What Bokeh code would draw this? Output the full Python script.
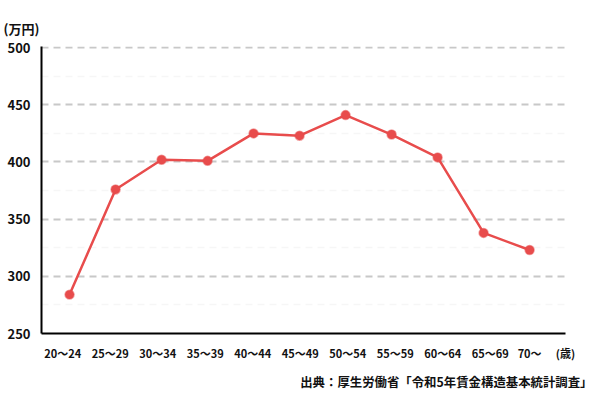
from bokeh.plotting import figure
from bokeh.models import FixedTicker, Title, Range1d, ColumnDataSource
from bokeh.embed import file_html
from bokeh.resources import INLINE

# ---- data ----
age_groups = ["20〜24", "25〜29", "30〜34", "35〜39", "40〜44", "45〜49",
              "50〜54", "55〜59", "60〜64", "65〜69", "70〜"]
income = [284, 376, 402, 401, 425, 423, 441, 424, 404, 338, 323]
y_ticks = [250, 300, 350, 400, 450, 500]
y_minor = [275, 325, 375, 425, 475]
y_unit = "(万円)"
x_unit = "(歳)"
source_note = "出典：厚生労働省「令和5年賃金構造基本統計調査」"

FONT = "Noto Sans CJK JP"
RED = "#e84c4c"
X_END = 10.78

xs = list(range(len(age_groups)))
src = ColumnDataSource(dict(x=xs, y=income))

p = figure(width=600, height=400, output_backend="svg", toolbar_location=None,
           x_range=Range1d(-0.61, X_END), y_range=Range1d(250, 501),
           min_border_left=41, min_border_right=35, min_border_top=46,
           min_border_bottom=67)
p.outline_line_color = None
p.background_fill_color = "white"
p.border_fill_color = "white"

# y axis
p.yaxis.ticker = FixedTicker(ticks=y_ticks, minor_ticks=y_minor)
p.yaxis.axis_line_color = "black"
p.yaxis.axis_line_width = 2
p.yaxis.major_tick_line_color = None
p.yaxis.minor_tick_line_color = None
p.yaxis.major_tick_out = 0
p.yaxis.major_tick_in = 0
p.yaxis.major_label_standoff = 7
p.yaxis.major_label_text_font = FONT
p.yaxis.major_label_text_font_style = "bold"
p.yaxis.major_label_text_font_size = "13px"
p.yaxis.major_label_text_color = "#111111"

# x axis (labels follow the original's slightly wider spacing; unit at the end)
label_pos = [-0.148 + 1.0326 * i for i in xs[:-1]] + [xs[-1]]
overrides = {lp: lab for lp, lab in zip(label_pos, age_groups)}
overrides[X_END] = x_unit
p.xaxis.ticker = FixedTicker(ticks=label_pos + [X_END])
p.xaxis.major_label_overrides = overrides
p.xaxis.axis_line_color = "black"
p.xaxis.axis_line_width = 2
p.xaxis.major_tick_line_color = None
p.xaxis.minor_tick_line_color = None
p.xaxis.major_tick_out = 0
p.xaxis.major_tick_in = 0
p.xaxis.major_label_standoff = 11
p.xaxis.major_label_text_font = FONT
p.xaxis.major_label_text_font_style = "bold"
p.xaxis.major_label_text_font_size = "11px"
p.xaxis.major_label_text_color = "#111111"

# grids
p.xgrid.grid_line_color = None
p.ygrid.grid_line_color = "#c8c8c8"
p.ygrid.grid_line_width = 2
p.ygrid.grid_line_dash = "7 5"
p.ygrid.minor_grid_line_color = "#f6f6f6"
p.ygrid.minor_grid_line_width = 1.5
p.ygrid.minor_grid_line_dash = "7 5"

# series
p.line("x", "y", source=src, line_color=RED, line_width=2.5)
p.scatter("x", "y", source=src, size=9, fill_color=RED, line_color=RED,
          line_alpha=0.5, line_width=1.5)

# unit title above, source note below
p.add_layout(Title(text=y_unit, align="left", offset=-38, standoff=17,
                   text_font=FONT, text_font_style="bold", text_font_size="13px",
                   text_color="#111111"), "above")
p.add_layout(Title(text=source_note, align="right", offset=-27, standoff=15,
                   text_font=FONT, text_font_style="bold", text_font_size="12.4px",
                   text_color="#111111"), "below")

open("out.html", "w").write(file_html(p, INLINE))
